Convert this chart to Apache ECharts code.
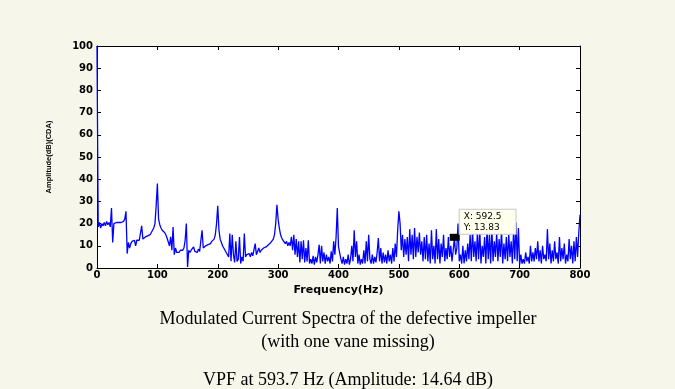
<!DOCTYPE html>
<html><head><meta charset="utf-8">
<script src="https://cdn.jsdelivr.net/npm/echarts@6/dist/echarts.min.js"></script>
<style>html,body{margin:0;padding:0;background:#f6f6ea;}#c{width:675px;height:389px;}</style>
</head><body><div id="c"></div>
<script>
// Frequency sampling (Hz) of the amplitude list below
var freqStart = 0;
var freqStep = 2;
// Amplitude (dB), one value every 2 Hz from 0 to 800 Hz
var amplitude = [
  100, 18.5, 20.5, 18, 20, 19, 20.5, 19, 21, 19.5,
  20.5, 18.5, 27, 11.5, 20, 19.5, 20.5, 20, 20.5, 20.5,
  20.5, 20.5, 21, 22, 25.5, 6.5, 11.5, 9, 11, 12,
  11.5, 12.5, 10, 12.5, 12, 12.5, 12.5, 19, 13, 13,
  14, 13.5, 14.5, 15, 15, 16, 16.5, 18, 20, 28,
  38, 22, 19.5, 18, 17, 17, 16, 15, 13.5, 14,
  10, 14, 8, 18.5, 6, 9, 7, 7.5, 7, 8,
  7.5, 8, 9, 12.5, 20, 0.5, 8, 7, 8, 7.5,
  9.5, 7.5, 8, 7, 8.5, 7.5, 8, 17, 9, 9.5,
  10, 9.5, 10.5, 10, 11, 12, 12.5, 13, 15, 20,
  28, 17, 13, 11.5, 10, 9, 8, 7, 6.5, 5,
  15.5, 3, 15, 6, 2.5, 12, 3, 4, 14, 2,
  5, 3, 15.5, 5, 6, 5.5, 6.5, 5, 7, 5.5,
  6, 11, 6, 6.5, 9, 7, 8, 8, 9, 9,
  9.5, 10, 10.5, 11, 11.5, 12, 13, 15, 20, 28.5,
  22, 18, 15, 13.5, 12.5, 13, 11, 12, 10, 11.5,
  10, 14, 8, 15, 6, 13, 5, 12, 2.5, 12,
  4, 12.5, 2.5, 9, 3, 12.5, 2, 4, 2, 5.5,
  1.5, 5, 2.5, 6, 10.5, 2, 10, 3, 7, 2,
  6, 3, 5, 2, 7.5, 3, 12, 6, 14, 27,
  9.5, 9, 4, 2, 5, 1.5, 4, 2, 6, 1.5,
  4, 10, 3, 17, 5, 12, 2, 6, 1.5, 4,
  2, 8, 2, 12, 3, 15, 4, 2, 6, 2,
  5, 2.5, 7, 13.5, 3, 9, 2, 7, 2.5, 6,
  2, 8, 3, 6, 2, 9, 3, 11, 5, 17,
  25.5, 20, 8, 15, 5, 13, 6, 14, 3, 17.5,
  6, 15, 4, 18, 5, 14, 7, 16, 6, 12,
  3, 14, 4, 15, 3, 11, 2, 17, 4, 10,
  2, 17.5, 4, 13, 2, 11, 5, 15, 3, 9,
  4, 14, 5, 10, 3, 8, 13.8, 6, 9, 20,
  3, 6, 2, 10, 2, 8, 3, 11, 4, 15,
  3, 17, 5, 12, 3, 16, 4, 17, 2, 10,
  5, 14, 2, 17.5, 4, 15, 2, 18, 3, 12,
  5, 16, 3, 13, 5, 17, 2, 11, 4, 14,
  3, 15, 5, 12, 2, 17, 4, 20.5, 3, 18,
  1.5, 6, 2, 4, 2, 7, 3, 5, 2, 10,
  3, 7, 3, 9, 4, 12, 3, 8, 2, 10,
  4, 6, 3, 17.5, 4, 11, 2, 8, 3, 12,
  4, 7, 2, 14, 3, 9, 4, 11, 2, 6,
  3, 13, 4, 10, 2, 12, 3, 14, 5, 16,
  24
];
// Data tip
var tipX = 592.5;
var tipY = 13.83;
var xAxisName = 'Frequency(Hz)';
var yAxisName = 'Amplitude(dB)(CDA)';
var captions = [
  'Modulated Current Spectra of the defective impeller',
  '(with one vane missing)',
  'VPF at 593.7 Hz (Amplitude: 14.64 dB)'
];

var seriesData = amplitude.map(function (v, i) { return [freqStart + i * freqStep, v]; });

var chart = echarts.init(document.getElementById('c'), null, {renderer: 'canvas'});
var tickFont = {fontFamily: 'DejaVu Sans', fontWeight: 'bold', fontSize: 10, color: '#000'};
var tickStyle = {show: true, inside: true, length: 4, lineStyle: {color: '#000', width: 1}};
var lineStyle = {show: true, onZero: false, lineStyle: {color: '#000', width: 1}};
chart.setOption({
  animation: false,
  backgroundColor: '#f6f6ea',
  grid: {left: 97, right: 95, top: 46, bottom: 121, show: false},
  xAxis: [{
    type: 'value', min: 0, max: 800, interval: 100, position: 'bottom',
    name: xAxisName, nameLocation: 'middle', nameGap: 12,
    nameTextStyle: {fontFamily: 'DejaVu Sans', fontWeight: 'bold', fontSize: 11, color: '#000'},
    axisLine: lineStyle,
    axisTick: tickStyle,
    axisLabel: Object.assign({margin: 2}, tickFont),
    splitLine: {show: false}
  }, {
    type: 'value', min: 0, max: 800, interval: 100, position: 'top',
    axisLine: lineStyle,
    axisTick: tickStyle,
    axisLabel: {show: false}, splitLine: {show: false}
  }],
  yAxis: [{
    type: 'value', min: 0, max: 100, interval: 10, position: 'left',
    name: yAxisName, nameLocation: 'middle', nameGap: 44, nameRotate: 90,
    nameTextStyle: {fontFamily: 'Liberation Sans', fontWeight: 'bold', fontSize: 7.5, color: '#000'},
    axisLine: lineStyle,
    axisTick: tickStyle,
    axisLabel: Object.assign({margin: 4}, tickFont),
    splitLine: {show: false}
  }, {
    type: 'value', min: 0, max: 100, interval: 10, position: 'right',
    axisLine: lineStyle,
    axisTick: tickStyle,
    axisLabel: {show: false}, splitLine: {show: false}
  }],
  series: [{
    type: 'line', data: seriesData, showSymbol: false, symbol: 'none',
    lineStyle: {color: '#0000ff', width: 1.3}, clip: true, z: 3,
    markArea: {
      silent: true, z: -1,
      itemStyle: {color: '#ffffff'},
      data: [[{coord: [0, 0]}, {coord: [800, 100]}]]
    },
    markPoint: {
      silent: true,
      data: [{
        coord: [tipX, tipY], symbol: 'rect', symbolSize: [10, 7],
        itemStyle: {color: '#000'},
        label: {
          show: true, position: [10, -24],
          formatter: 'X: ' + tipX + '\nY: ' + tipY,
          fontFamily: 'DejaVu Sans', fontSize: 9, lineHeight: 11, color: '#000',
          backgroundColor: '#ffffee', borderColor: '#c8c8c8', borderWidth: 1,
          padding: [1, 14, 1, 4]
        }
      }]
    }
  }],
  graphic: captions.map(function (t, i) {
    return {type: 'text', x: 348, y: [310, 333, 371][i],
      style: {text: t, align: 'center', verticalAlign: 'top', font: '18px "Liberation Serif"', fill: '#000'}};
  })
});
</script></body></html>
